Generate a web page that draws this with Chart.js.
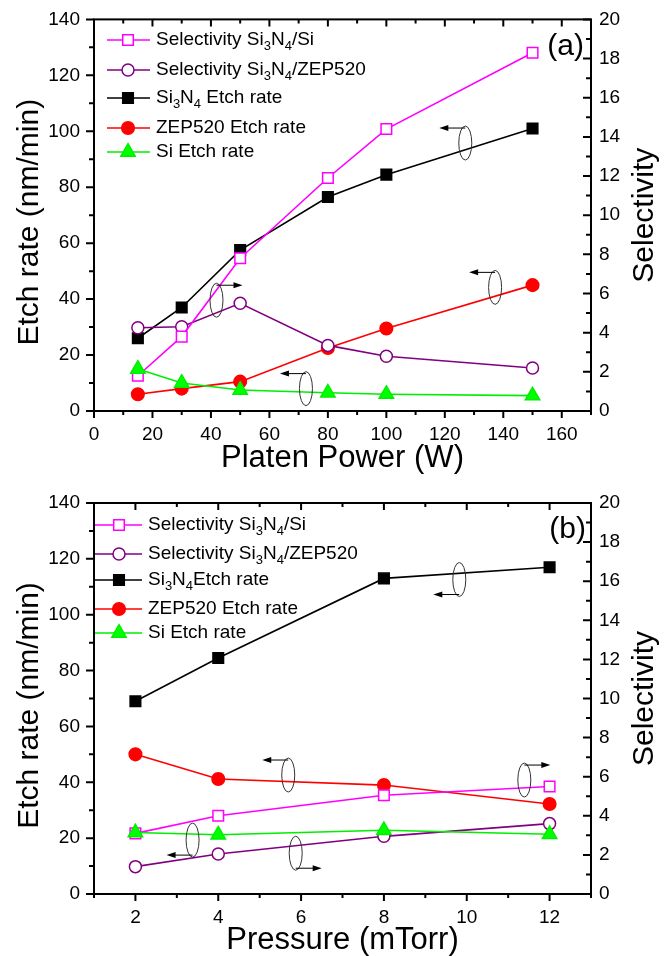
<!DOCTYPE html>
<html lang="en">
<head>
<meta charset="UTF-8">
<title>Etch rate and selectivity</title>
<script src="https://cdn.jsdelivr.net/npm/chart.js@4.4.1/dist/chart.umd.min.js"></script>
<style>
    html, body { margin: 0; padding: 0; background: #fff; }
    #wrap { position: relative; width: 668px; height: 956px; }
    .panel { position: absolute; left: 0; width: 668px; height: 478px; }
</style>
</head>
<body>
<div id="wrap">
    <div class="panel" style="top:0"><canvas id="chartA" width="668" height="478"></canvas></div>
    <div class="panel" style="top:478px"><canvas id="chartB" width="668" height="478"></canvas></div>
</div>
<script>
// legend labels, "_3" means subscript 3
const seriesLabelsA = ['Selectivity Si_3N_4/Si', 'Selectivity Si_3N_4/ZEP520', 'Si_3N_4 Etch rate', 'ZEP520 Etch rate', 'Si Etch rate'];
const seriesLabelsB = ['Selectivity Si_3N_4/Si', 'Selectivity Si_3N_4/ZEP520', 'Si_3N_4Etch rate', 'ZEP520 Etch rate', 'Si Etch rate'];

// (a) platen power sweep
const powerW    = [15, 30, 50, 80, 100, 150];
const aSelSi    = [1.8, 3.8, 7.8, 11.9, 14.4, 18.3];
const aSelZep   = [4.25, 4.3, 5.5, 3.35, 2.8, 2.2];
const aSiNRate  = [26, 37, 57.5, 76.5, 84.5, 101];
const aZepRate  = [6, 8, 10.5, 22.5, 29.5, 45];
const aSiRate   = [15, 10, 7.5, 6.5, 6, 5.5];

// (b) pressure sweep
const pressure  = [2, 4, 8, 12];
const bSelSi    = [3.1, 4.0, 5.05, 5.5];
const bSelZep   = [1.4, 2.05, 2.95, 3.6];
const bSiNRate  = [69, 84.5, 113, 117];
const bZepRate  = [50, 41.2, 39, 32.2];
const bSiRate   = [22, 21.2, 22.8, 21.4];

// tick labels
const powerTicks    = [0, 20, 40, 60, 80, 100, 120, 140, 160];
const pressureTicks = [2, 4, 6, 8, 10, 12];
const rateTicks     = [0, 20, 40, 60, 80, 100, 120, 140];
const selTicks      = [0, 2, 4, 6, 8, 10, 12, 14, 16, 18, 20];

// ellipse + arrow markers (which axis a curve belongs to)
const notesA = [
    { x: 127, y: 95.8, end: 'top', dir: -1 },
    { x: 137.2, y: 44.2, end: 'top', dir: -1 },
    { x: 72.5, y: 8.0, end: 'top', dir: -1 },
    { x: 41.9, y: 39.6, end: 'top', dir: 1 }
];
const notesB = [
    { x: 9.82, y: 112.6, end: 'bottom', dir: -1 },
    { x: 5.69, y: 42.6, end: 'top', dir: -1 },
    { x: 3.38, y: 19.3, end: 'bottom', dir: -1 },
    { x: 5.87, y: 14.6, end: 'bottom', dir: 1 },
    { x: 11.39, y: 40.8, end: 'top', dir: 1 }
];

const FONT = '"Liberation Sans", Arial, sans-serif';
Chart.defaults.font.family = FONT;
Chart.defaults.color = '#000';

function drawRich(ctx, text, x, y, size) {
    const parts = text.split(/(_\d)/);
    for (const p of parts) {
        if (!p) continue;
        if (p[0] === '_') {
            ctx.font = Math.round(size * 0.68) + 'px ' + FONT;
            ctx.fillText(p.slice(1), x, y + size * 0.34);
            x += ctx.measureText(p.slice(1)).width;
        } else {
            ctx.font = size + 'px ' + FONT;
            ctx.fillText(p, x, y);
            x += ctx.measureText(p).width;
        }
    }
}

function drawMarker(ctx, style, r, x, y) {
    ctx.beginPath();
    if (style === 'rect') {
        const s = r * Math.SQRT1_2;
        ctx.rect(x - s, y - s, 2 * s, 2 * s);
    } else if (style === 'triangle') {
        ctx.moveTo(x, y - r);
        ctx.lineTo(x + r * 0.866, y + r / 2);
        ctx.lineTo(x - r * 0.866, y + r / 2);
        ctx.closePath();
    } else {
        ctx.arc(x, y, r, 0, Math.PI * 2);
    }
    ctx.fill();
    ctx.stroke();
}

const decor = {
    id: 'decor',
    afterDatasetsDraw(chart, args, o) {
        const ctx = chart.ctx;
        const xs = chart.scales.x, ys = chart.scales.y;
        ctx.save();

        for (const n of o.notes) {
            const cx = xs.getPixelForValue(n.x), cy = ys.getPixelForValue(n.y);
            ctx.lineWidth = 1;
            ctx.strokeStyle = '#333';
            ctx.beginPath();
            ctx.ellipse(cx, cy, 6.5, 17, 0, 0, Math.PI * 2);
            ctx.stroke();
            const ay = n.end === 'top' ? cy - 15 : cy + 15;
            const ax = cx + n.dir * 26;
            ctx.strokeStyle = '#000';
            ctx.beginPath();
            ctx.moveTo(cx, ay);
            ctx.lineTo(ax - n.dir * 4, ay);
            ctx.stroke();
            ctx.fillStyle = '#000';
            ctx.beginPath();
            ctx.moveTo(ax, ay);
            ctx.lineTo(ax - n.dir * 9, ay - 3);
            ctx.lineTo(ax - n.dir * 9, ay + 3);
            ctx.closePath();
            ctx.fill();
        }

        chart.data.datasets.forEach((ds, i) => {
            const y = o.rows[i];
            ctx.strokeStyle = ds.borderColor;
            ctx.lineWidth = ds.borderWidth;
            ctx.beginPath();
            ctx.moveTo(o.lineX[0], y);
            ctx.lineTo(o.lineX[1], y);
            ctx.stroke();
            ctx.fillStyle = ds.backgroundColor;
            ctx.strokeStyle = ds.borderColor;
            ctx.lineWidth = ds.pointBorderWidth;
            drawMarker(ctx, ds.pointStyle, ds.pointRadius, o.markX, y);
            ctx.fillStyle = '#000';
            ctx.textAlign = 'left';
            ctx.textBaseline = 'middle';
            drawRich(ctx, o.labels[i], o.textX, y, 19);
        });
        ctx.restore();
    },
    afterDraw(chart, args, o) {
        const ctx = chart.ctx;
        const a = chart.chartArea;
        const xs = chart.scales.x, ys = chart.scales.y, y1 = chart.scales.y1;
        ctx.save();
        ctx.strokeStyle = '#000';
        ctx.lineWidth = 2;
        ctx.strokeRect(a.left, a.top, a.right - a.left, a.bottom - a.top);

        ctx.beginPath();
        // x ticks: out at bottom, in at top
        for (let i = 0; xs.min + i * o.xMinor <= xs.max + 1e-9; i++) {
            const v = xs.min + i * o.xMinor;
            const px = xs.getPixelForValue(v);
            const len = Math.abs(v / o.xMajor - Math.round(v / o.xMajor)) < 1e-6 ? 7 : 4;
            ctx.moveTo(px, a.bottom);
            ctx.lineTo(px, a.bottom + len);
            ctx.moveTo(px, a.top);
            ctx.lineTo(px, a.top + len);
        }
        // left ticks out
        for (let v = 0; v <= ys.max; v += 10) {
            const py = ys.getPixelForValue(v);
            const len = v % 20 === 0 ? 8 : 5;
            ctx.moveTo(a.left - len, py);
            ctx.lineTo(a.left, py);
        }
        // right ticks in
        for (let v = 0; v <= y1.max; v += 1) {
            const py = y1.getPixelForValue(v);
            const len = v % 2 === 0 ? 8 : 5;
            ctx.moveTo(a.right - len, py);
            ctx.lineTo(a.right, py);
        }
        ctx.stroke();

        ctx.fillStyle = '#000';
        ctx.font = '30px ' + FONT;
        ctx.textAlign = 'right';
        ctx.textBaseline = 'middle';
        ctx.fillText(o.tag, o.tagX, o.tagY);

        // both y titles read bottom to top
        const midY = (a.top + a.bottom) / 2;
        ctx.textAlign = 'center';
        ctx.font = '30px ' + FONT;
        ctx.save();
        ctx.translate(30, midY + 7);
        ctx.rotate(-Math.PI / 2);
        ctx.fillText('Etch rate (nm/min)', 0, 0);
        ctx.restore();

        ctx.translate(645, midY);
        ctx.rotate(-Math.PI / 2);
        ctx.fillText('Selectivity', 0, 0);
        ctx.restore();
    }
};

function points(xv, yv) {
    return xv.map((x, i) => ({ x: x, y: yv[i] }));
}

function makeChart(id, cfg) {
    const styles = [
        { color: '#ff00ff', fill: '#ffffff', style: 'rect', r: 7.5, axis: 'y1' },
        { color: '#800080', fill: '#ffffff', style: 'circle', r: 6, axis: 'y1' },
        { color: '#000000', fill: '#000000', style: 'rect', r: 7.5, axis: 'y' },
        { color: '#ff0000', fill: '#ff0000', style: 'circle', r: 6.3, axis: 'y' },
        { color: '#00ee00', fill: '#00ff00', style: 'triangle', r: 8.3, axis: 'y' }
    ];
    const datasets = cfg.series.map((vals, i) => ({
        label: cfg.labels[i].replace(/_(\d)/g, (m, d) => String.fromCharCode(0x2080 + Number(d))),
        data: points(cfg.xValues, vals),
        yAxisID: styles[i].axis,
        borderColor: styles[i].color,
        backgroundColor: styles[i].fill,
        pointStyle: styles[i].style,
        pointRadius: styles[i].r,
        pointBorderWidth: 1.5,
        borderWidth: 1.6,
        tension: 0,
        order: i === 4 ? -1 : i
    }));

    return new Chart(document.getElementById(id), {
        type: 'line',
        data: { datasets: datasets },
        plugins: [decor],
        options: {
            responsive: false,
            animation: false,
            events: [],
            layout: { padding: { top: cfg.top, left: 0, right: 0, bottom: 0 } },
            plugins: {
                legend: { display: false },
                tooltip: { enabled: false },
                decor: {
                    notes: cfg.notes,
                    labels: cfg.labels,
                    rows: cfg.rows,
                    lineX: cfg.lineX,
                    markX: cfg.markX,
                    textX: cfg.textX,
                    tag: cfg.tag, tagX: cfg.tagX, tagY: cfg.tagY,
                    xMinor: cfg.xMinor, xMajor: cfg.xMajor
                }
            },
            scales: {
                x: {
                    type: 'linear',
                    min: cfg.xMin,
                    max: cfg.xMax,
                    afterFit: s => { s.height = cfg.xHeight; },
                    afterBuildTicks: s => { s.ticks = cfg.xTicks.map(v => ({ value: v })); },
                    grid: { display: false, drawTicks: true, tickLength: 8 },
                    border: { display: false },
                    ticks: { font: { size: 19 }, padding: 4, maxRotation: 0, autoSkip: false },
                    title: { display: true, text: cfg.xTitle, font: { size: 31 }, padding: { top: 0, bottom: cfg.xTitlePad } }
                },
                y: {
                    position: 'left',
                    min: 0,
                    max: 140,
                    afterFit: s => { s.width = 94; },
                    afterBuildTicks: s => { s.ticks = rateTicks.map(v => ({ value: v })); },
                    grid: { display: false, drawTicks: true, tickLength: 8 },
                    border: { display: false },
                    ticks: { font: { size: 19 }, padding: 6 }
                },
                y1: {
                    position: 'right',
                    min: 0,
                    max: 20,
                    afterFit: s => { s.width = 77; },
                    afterBuildTicks: s => { s.ticks = selTicks.map(v => ({ value: v })); },
                    grid: { display: false, drawTicks: false },
                    border: { display: false },
                    ticks: { font: { size: 19 }, padding: 8 }
                }
            }
        }
    });
}

makeChart('chartA', {
    xValues: powerW,
    series: [aSelSi, aSelZep, aSiNRate, aZepRate, aSiRate],
    labels: seriesLabelsA,
    xMin: 0, xMax: 170, xTicks: powerTicks, xMinor: 10, xMajor: 20,
    xTitle: 'Platen Power (W)', xTitlePad: 1,
    top: 19, xHeight: 67,
    notes: notesA,
    rows: [40, 70, 98, 128, 152],
    lineX: [107, 150], markX: 128, textX: 156,
    tag: '(a)', tagX: 584, tagY: 47
});

makeChart('chartB', {
    xValues: pressure,
    series: [bSelSi, bSelZep, bSiNRate, bZepRate, bSiRate],
    labels: seriesLabelsB,
    xMin: 1, xMax: 13, xTicks: pressureTicks, xMinor: 1, xMajor: 2,
    xTitle: 'Pressure (mTorr)', xTitlePad: -3,
    top: 25, xHeight: 62,
    notes: notesB,
    rows: [47, 76, 102, 131, 155],
    lineX: [95, 142], markX: 119, textX: 148,
    tag: '(b)', tagX: 586, tagY: 52
});
</script>
</body>
</html>
